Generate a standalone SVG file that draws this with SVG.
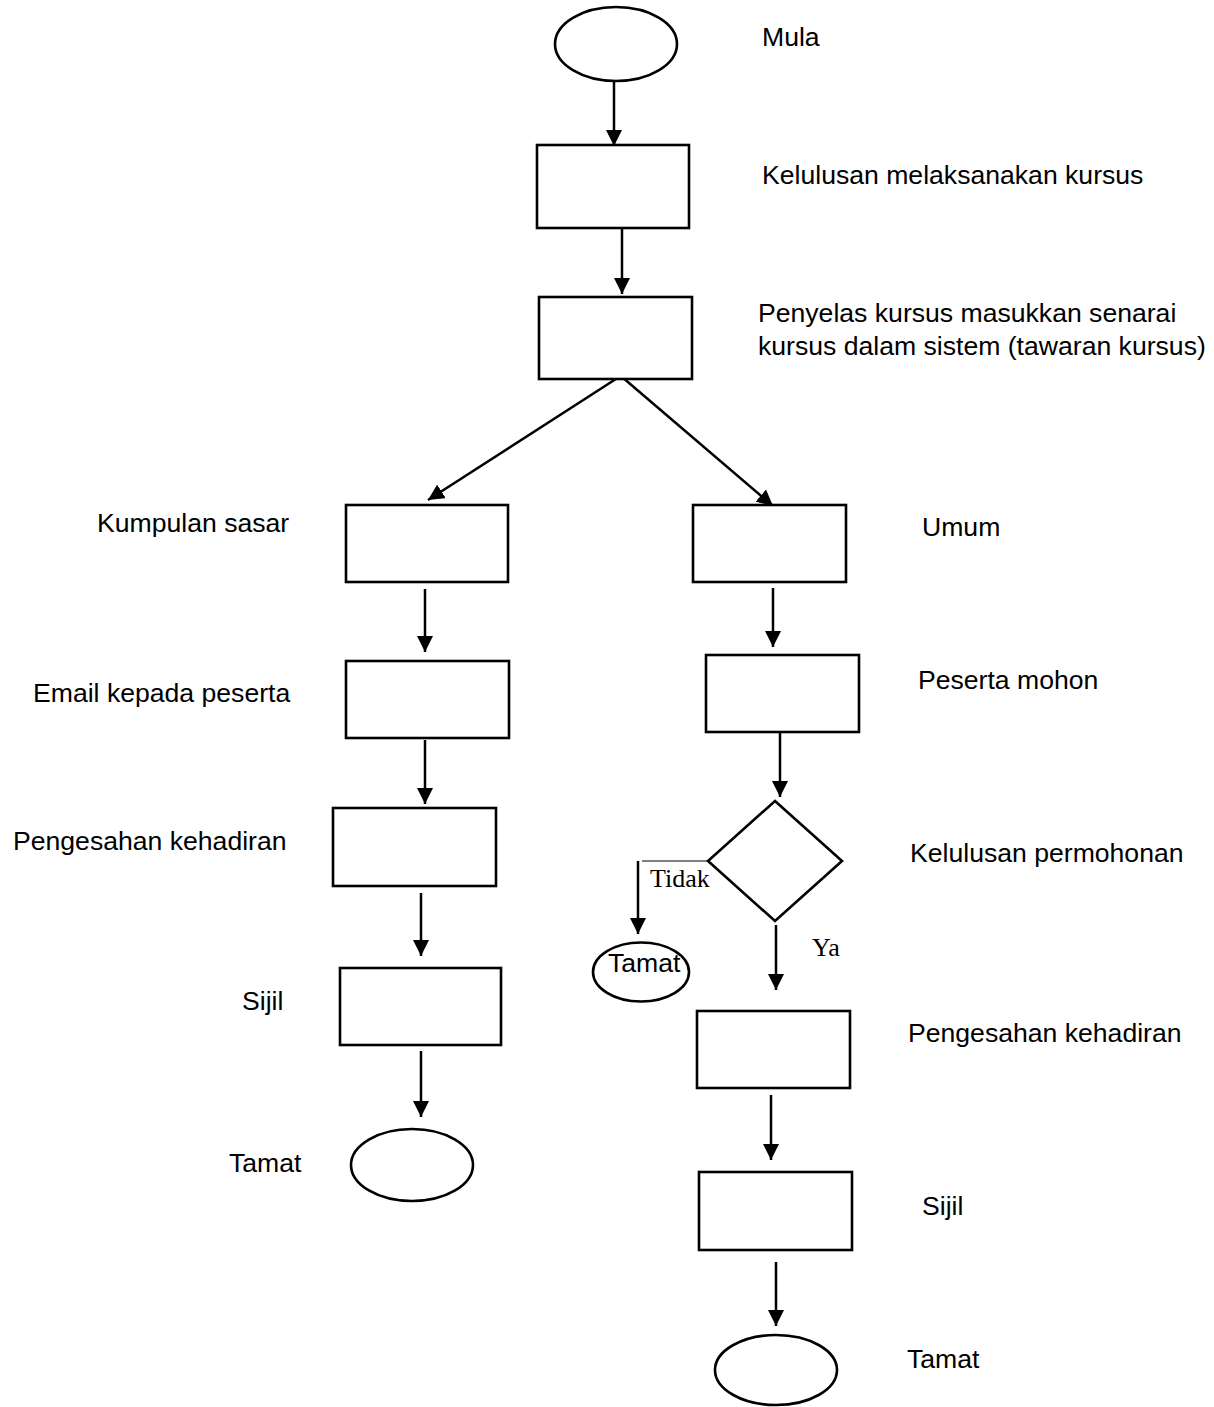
<svg xmlns="http://www.w3.org/2000/svg" width="1214" height="1407" viewBox="0 0 1214 1407">
  <defs>
    <marker id="arrow" viewBox="0 0 16 16" refX="16" refY="8" markerWidth="16" markerHeight="16" markerUnits="userSpaceOnUse" orient="auto">
      <path d="M0,0 L16,8 L0,16 z" fill="#000"/>
    </marker>
  </defs>
  <style>
    .box { fill: #fff; stroke: #000; stroke-width: 2.6; }
    .link { fill: none; stroke: #000; stroke-width: 2.5; marker-end: url(#arrow); }
    .thin { fill: none; stroke: #000; stroke-width: 1.2; }
    .lbl { font-family: "Liberation Sans", Arial, sans-serif; font-size: 26.6px; fill: #000; }
    .tag { font-family: "Liberation Serif", "Times New Roman", serif; font-size: 26px; fill: #000; }
  </style>
  <rect width="1214" height="1407" fill="#fff"/>

  <!-- connectors -->
  <g id="connectors">
    <line class="link" x1="614" y1="81" x2="614" y2="146"/>
    <line class="link" x1="622" y1="229" x2="622" y2="294"/>
    <line class="link" x1="619" y1="377" x2="428" y2="500"/>
    <line class="link" x1="622" y1="377" x2="773" y2="506"/>
    <line class="link" x1="425" y1="589" x2="425" y2="652"/>
    <line class="link" x1="425" y1="740" x2="425" y2="804"/>
    <line class="link" x1="421" y1="893" x2="421" y2="956"/>
    <line class="link" x1="421" y1="1051" x2="421" y2="1117"/>
    <line class="link" x1="773" y1="588" x2="773" y2="647"/>
    <line class="link" x1="780" y1="733" x2="780" y2="797"/>
    <line class="thin" x1="642" y1="861" x2="708" y2="861"/>
    <line class="link" x1="638" y1="861" x2="638" y2="934"/>
    <line class="link" x1="776" y1="925" x2="776" y2="990"/>
    <line class="link" x1="771" y1="1095" x2="771" y2="1160"/>
    <line class="link" x1="776" y1="1262" x2="776" y2="1326"/>
    <text class="tag" x="650" y="887">Tidak</text>
    <text class="tag" x="812" y="956" font-size="24">Ya</text>
  </g>

  <!-- start -->
  <g id="start">
    <ellipse class="box" cx="616" cy="44" rx="61" ry="37"/>
    <text class="lbl" x="762" y="46">Mula</text>
  </g>

  <!-- approval to run the course -->
  <g id="approve-course">
    <rect class="box" x="537" y="145" width="152" height="83"/>
    <text class="lbl" x="762" y="184">Kelulusan melaksanakan kursus</text>
  </g>

  <!-- coordinator enters course list -->
  <g id="enter-courses">
    <rect class="box" x="539" y="297" width="153" height="82"/>
    <text class="lbl" x="758" y="322">Penyelas kursus masukkan senarai</text>
    <text class="lbl" x="758" y="355">kursus dalam sistem (tawaran kursus)</text>
  </g>

  <!-- left branch: target group -->
  <g id="target-group">
    <rect class="box" x="346" y="505" width="162" height="77"/>
    <text class="lbl" x="97" y="532">Kumpulan sasar</text>
  </g>

  <g id="email-participants">
    <rect class="box" x="346" y="661" width="163" height="77"/>
    <text class="lbl" x="33" y="702">Email kepada peserta</text>
  </g>

  <g id="confirm-left">
    <rect class="box" x="333" y="808" width="163" height="78"/>
    <text class="lbl" x="13" y="850">Pengesahan kehadiran</text>
  </g>

  <g id="cert-left">
    <rect class="box" x="340" y="968" width="161" height="77"/>
    <text class="lbl" x="242" y="1010">Sijil</text>
  </g>

  <g id="end-left">
    <ellipse class="box" cx="412" cy="1165" rx="61" ry="36"/>
    <text class="lbl" x="229" y="1172">Tamat</text>
  </g>

  <!-- right branch: public -->
  <g id="public">
    <rect class="box" x="693" y="505" width="153" height="77"/>
    <text class="lbl" x="922" y="536">Umum</text>
  </g>

  <g id="apply">
    <rect class="box" x="706" y="655" width="153" height="77"/>
    <text class="lbl" x="918" y="689">Peserta mohon</text>
  </g>

  <g id="decision">
    <polygon class="box" points="775,801 842,861 775,921 708,861"/>
    <text class="lbl" x="910" y="862">Kelulusan permohonan</text>
  </g>

  <g id="end-rejected">
    <ellipse class="box" cx="641" cy="972" rx="48" ry="29.5"/>
    <text class="lbl" x="608" y="972" font-size="27.5">Tamat</text>
  </g>

  <g id="confirm-right">
    <rect class="box" x="697" y="1011" width="153" height="77"/>
    <text class="lbl" x="908" y="1042">Pengesahan kehadiran</text>
  </g>

  <g id="cert-right">
    <rect class="box" x="699" y="1172" width="153" height="78"/>
    <text class="lbl" x="922" y="1215">Sijil</text>
  </g>

  <g id="end-right">
    <ellipse class="box" cx="776" cy="1370" rx="61" ry="35"/>
    <text class="lbl" x="907" y="1368">Tamat</text>
  </g>
</svg>
